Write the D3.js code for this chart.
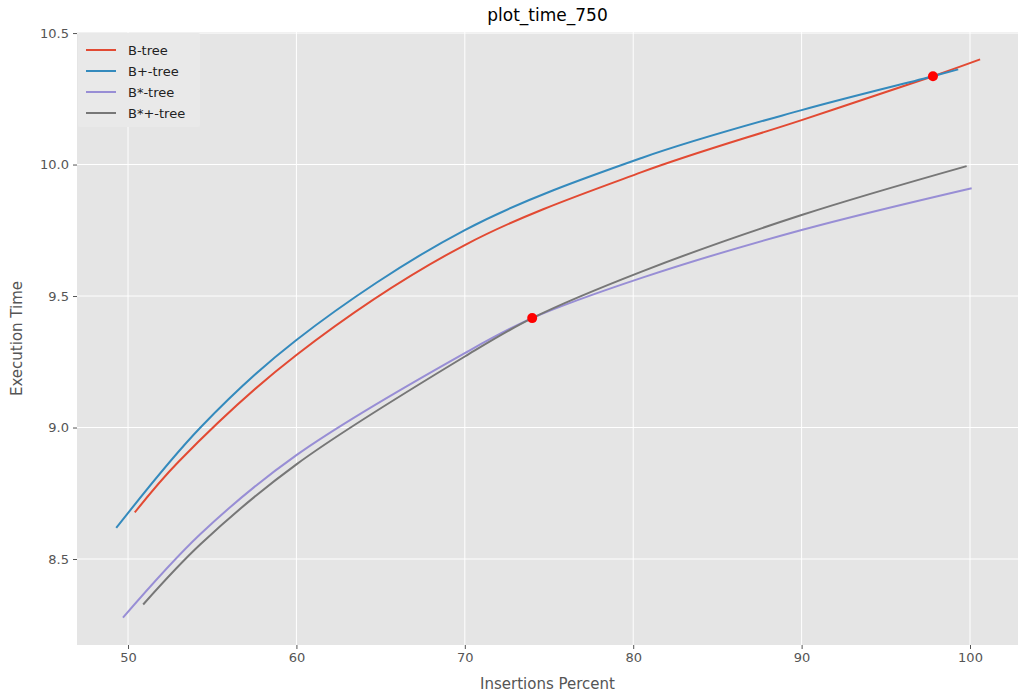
<!DOCTYPE html>
<html>
<head>
<meta charset="utf-8">
<script src="https://cdn.jsdelivr.net/npm/d3@7"></script>
<style>
  html, body { margin: 0; padding: 0; background: #ffffff; }
  svg { display: block; font-family: "DejaVu Sans", sans-serif; }
</style>
</head>
<body>
<svg id="chart" width="1024" height="694"></svg>
<script>
// ---- data ----
const seriesNames = ["B-tree", "B+-tree", "B*-tree", "B*+-tree"];
const seriesColors = ["#E24A33", "#348ABD", "#988ED5", "#777777"];

const bTreeX = [50.4, 53, 60, 70, 80.5, 90, 97.8, 100.6];
const bTreeY = [8.677, 8.87, 9.276, 9.694, 9.971, 10.169, 10.336, 10.40];

const bPlusX = [49.3, 54.3, 60, 70, 80.5, 90, 97.8, 99.3];
const bPlusY = [8.618, 9.00, 9.333, 9.751, 10.025, 10.207, 10.336, 10.362];

const bStarX = [49.7, 54.3, 60, 70, 74, 80.5, 90, 100.1];
const bStarY = [8.277, 8.595, 8.895, 9.283, 9.416, 9.569, 9.751, 9.91];

const bStarPlusX = [50.9, 54.3, 60, 70, 74, 80.5, 90, 99.8];
const bStarPlusY = [8.327, 8.556, 8.86, 9.27, 9.416, 9.593, 9.808, 9.994];

const crossX = [97.8, 74.0];
const crossY = [10.336, 9.416];

const xTicks = [50, 60, 70, 80, 90, 100];
const yTicks = [8.5, 9.0, 9.5, 10.0, 10.5];

const titleText = "plot_time_750";
const xLabelText = "Insertions Percent";
const yLabelText = "Execution Time";

// ---- layout ----
const svg = d3.select("#chart");
const mLeft = 77, mRight = 1018, mTop = 32, mBottom = 645;

const x = d3.scaleLinear().domain([46.97, 102.85]).range([mLeft, mRight]);
const y = d3.scaleLinear().domain([8.173, 10.504]).range([mBottom, mTop]);

// background
svg.append("rect").attr("x", mLeft).attr("y", mTop)
  .attr("width", mRight - mLeft).attr("height", mBottom - mTop)
  .attr("fill", "#E5E5E5");

// grid
const grid = svg.append("g");
grid.selectAll(".gx").data(xTicks).enter().append("line")
  .attr("x1", d => x(d)).attr("x2", d => x(d))
  .attr("y1", mTop).attr("y2", mBottom)
  .attr("stroke", "#ffffff").attr("stroke-width", 1);
grid.selectAll(".gy").data(yTicks).enter().append("line")
  .attr("x1", mLeft).attr("x2", mRight)
  .attr("y1", d => y(d)).attr("y2", d => y(d))
  .attr("stroke", "#ffffff").attr("stroke-width", 1);

// axes
const xAxis = d3.axisBottom(x).tickValues(xTicks).tickSize(4).tickPadding(4).tickFormat(d3.format("d"));
const yAxis = d3.axisLeft(y).tickValues(yTicks).tickSize(4).tickPadding(4).tickFormat(d3.format(".1f"));

const gx = svg.append("g").attr("transform", `translate(0,${mBottom})`).call(xAxis);
const gy = svg.append("g").attr("transform", `translate(${mLeft},0)`).call(yAxis);
[gx, gy].forEach(g => {
  g.select(".domain").remove();
  g.selectAll(".tick line").attr("stroke", "#555555");
  g.selectAll(".tick text").attr("fill", "#555555").style("font-size", "13px")
    .style("font-family", "'DejaVu Sans', sans-serif");
});

// lines
const allX = [bTreeX, bPlusX, bStarX, bStarPlusX];
const allY = [bTreeY, bPlusY, bStarY, bStarPlusY];
const line = d3.line().x(d => x(d[0])).y(d => y(d[1])).curve(d3.curveCatmullRom.alpha(0.5));

const plot = svg.append("g");
allX.forEach((xs, i) => {
  const pts = xs.map((v, j) => [v, allY[i][j]]);
  plot.append("path").datum(pts)
    .attr("d", line)
    .attr("fill", "none")
    .attr("stroke", seriesColors[i])
    .attr("stroke-width", 2);
});

// crossing points
plot.selectAll(".dot").data(crossX.map((v, i) => [v, crossY[i]])).enter()
  .append("circle")
  .attr("cx", d => x(d[0])).attr("cy", d => y(d[1]))
  .attr("r", 5).attr("fill", "#ff0000");

// legend
const leg = svg.append("g");
leg.append("rect").attr("x", mLeft + 1).attr("y", mTop + 1)
  .attr("width", 122).attr("height", 94)
  .attr("fill", "#E9E9E9").attr("stroke", "none").attr("rx", 2);
seriesNames.forEach((name, i) => {
  const yy = 50 + i * 21;
  leg.append("line").attr("x1", 86).attr("x2", 116)
    .attr("y1", yy).attr("y2", yy)
    .attr("stroke", seriesColors[i]).attr("stroke-width", 2);
  leg.append("text").attr("x", 128).attr("y", yy + 5)
    .attr("fill", "#222222").style("font-size", "13px")
    .text(name);
});

// title & labels
svg.append("text").attr("x", (mLeft + mRight) / 2).attr("y", 21)
  .attr("text-anchor", "middle").attr("fill", "#000000")
  .style("font-size", "17px").text(titleText);
svg.append("text").attr("x", (mLeft + mRight) / 2).attr("y", 689)
  .attr("text-anchor", "middle").attr("fill", "#555555")
  .style("font-size", "15px").text(xLabelText);
svg.append("text")
  .attr("transform", `translate(22,${(mTop + mBottom) / 2}) rotate(-90)`)
  .attr("text-anchor", "middle").attr("fill", "#555555")
  .style("font-size", "15px").text(yLabelText);
</script>
</body>
</html>
